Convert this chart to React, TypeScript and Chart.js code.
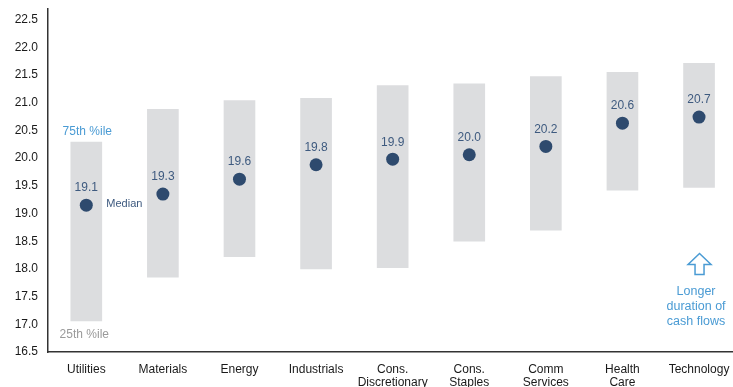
import React, { useEffect, useRef } from "react";
import { Chart, registerables } from "chart.js";

Chart.register(...registerables);

const categories: string[][] = [
  ["Utilities"],
  ["Materials"],
  ["Energy"],
  ["Industrials"],
  ["Cons.", "Discretionary"],
  ["Cons.", "Staples"],
  ["Comm", "Services"],
  ["Health", "Care"],
  ["Technology"],
];
const p25 = [17.06, 17.85, 18.22, 18.0, 18.02, 18.5, 18.7, 19.42, 19.47];
const p75 = [20.29, 20.88, 21.04, 21.08, 21.31, 21.34, 21.47, 21.55, 21.71];
const medians = [19.15, 19.35, 19.62, 19.88, 19.98, 20.06, 20.21, 20.63, 20.74];
const yTicks = [16.5, 17.0, 17.5, 18.0, 18.5, 19.0, 19.5, 20.0, 20.5, 21.0, 21.5, 22.0, 22.5];
const noteLines = ["Longer", "duration of", "cash flows"];

const FONT = '"Liberation Sans", Arial, sans-serif';

const annotations = {
  id: "annotations",
  afterDatasetsDraw(chart: any) {
    const { ctx, scales, chartArea } = chart;
    const x = scales.x;
    const y = scales.y;
    ctx.save();
    ctx.textAlign = "center";
    ctx.textBaseline = "middle";
    ctx.font = `12px ${FONT}`;
    ctx.fillStyle = "#3e5a7f";
    medians.forEach((m, i) => {
      const txt = (Math.floor(m * 10 + 1e-6) / 10).toFixed(1);
      ctx.fillText(txt, x.getPixelForValue(i), y.getPixelForValue(m) - 17);
    });
    const x0 = x.getPixelForValue(0);
    ctx.fillStyle = "#4a9bd4";
    ctx.fillText("75th %ile", x0 + 1, y.getPixelForValue(p75[0]) - 10.5);
    ctx.fillStyle = "#9a9a9a";
    ctx.fillText("25th %ile", x0 - 2, y.getPixelForValue(p25[0]) + 14);
    ctx.font = `11px ${FONT}`;
    ctx.fillStyle = "#3e5a7f";
    ctx.textAlign = "left";
    ctx.fillText("Median", x0 + 20, y.getPixelForValue(medians[0]) - 1);

    // arrow + note at the last category
    const xt = x.getPixelForValue(categories.length - 1) + 0.5;
    const bottom = chartArea.bottom;
    const top = bottom - 98.5;
    const headH = 11;
    const headW = 11.5;
    const shaftW = 4.5;
    const aBottom = bottom - 77.5;
    ctx.beginPath();
    ctx.moveTo(xt, top);
    ctx.lineTo(xt + headW, top + headH);
    ctx.lineTo(xt + shaftW, top + headH);
    ctx.lineTo(xt + shaftW, aBottom);
    ctx.lineTo(xt - shaftW, aBottom);
    ctx.lineTo(xt - shaftW, top + headH);
    ctx.lineTo(xt - headW, top + headH);
    ctx.closePath();
    ctx.fillStyle = "#ffffff";
    ctx.fill();
    ctx.strokeStyle = "#4a9bd4";
    ctx.lineWidth = 1.5;
    ctx.stroke();

    ctx.textAlign = "center";
    ctx.font = `12.5px ${FONT}`;
    ctx.fillStyle = "#4a9bd4";
    noteLines.forEach((t, i) => {
      ctx.fillText(t, xt - 3.5, bottom - 60 + i * 15);
    });
    ctx.restore();
  },
};

export default function App() {
  const ref = useRef<HTMLCanvasElement | null>(null);
  useEffect(() => {
    if (!ref.current) return;
    const chart = new Chart(ref.current, {
      type: "bar",
      data: {
        datasets: [
          {
            type: "line",
            data: medians.map((m, i) => ({ x: i, y: m })),
            showLine: false,
            pointRadius: 6.5,
            pointHoverRadius: 6.5,
            pointBackgroundColor: "#2e4a6e",
            pointBorderWidth: 0,
            borderColor: "#2e4a6e",
            order: 0,
          } as any,
          {
            type: "bar",
            data: p25.map((lo, i) => ({ x: i, y: [lo, p75[i]] })),
            backgroundColor: "#dcdddf",
            borderWidth: 0,
            borderSkipped: false,
            barThickness: 31,
            order: 1,
          } as any,
        ],
      },
      options: {
        responsive: false,
        animation: false,
        layout: { padding: { top: 8.5, left: 0, right: 0, bottom: 0 } },
        plugins: {
          legend: { display: false },
          tooltip: { enabled: false },
        },
        scales: {
          x: {
            type: "linear",
            min: -0.5,
            max: 8.45,
            offset: false,
            grid: { display: false, drawTicks: false },
            border: { display: true, color: "#333333", width: 1.5 },
            afterBuildTicks: (scale: any) => {
              scale.ticks = categories.map((_, i) => ({ value: i }));
            },
            afterFit: (scale: any) => {
              scale.height = 48;
              scale.paddingLeft = 0;
              scale.paddingRight = 0;
            },
            ticks: {
              autoSkip: false,
              maxRotation: 0,
              minRotation: 0,
              padding: 11,
              color: "#1a1a1a",
              font: { family: FONT, size: 12, lineHeight: 1.12 },
              callback: (v: any) => categories[Math.round(Number(v))] ?? "",
            },
          },
          y: {
            type: "linear",
            min: 16.5,
            max: 22.7,
            grid: { display: false, drawTicks: false },
            border: { display: true, color: "#333333", width: 1.5 },
            afterBuildTicks: (scale: any) => {
              scale.ticks = yTicks.map((v) => ({ value: v }));
            },
            afterFit: (scale: any) => {
              scale.width = 48;
              scale.paddingTop = 0;
              scale.paddingBottom = 0;
            },
            ticks: {
              padding: 10,
              color: "#1a1a1a",
              font: { family: FONT, size: 12 },
              callback: (v: any) => Number(v).toFixed(1),
            },
          },
        },
      },
      plugins: [annotations],
    });
    return () => chart.destroy();
  }, []);

  return (
    <div
      style={{
        position: "absolute",
        left: 0,
        top: 0,
        width: 733,
        height: 387,
        overflow: "hidden",
        background: "#ffffff",
      }}
    >
      <canvas ref={ref} width={740} height={400} style={{ display: "block" }} />
    </div>
  );
}
